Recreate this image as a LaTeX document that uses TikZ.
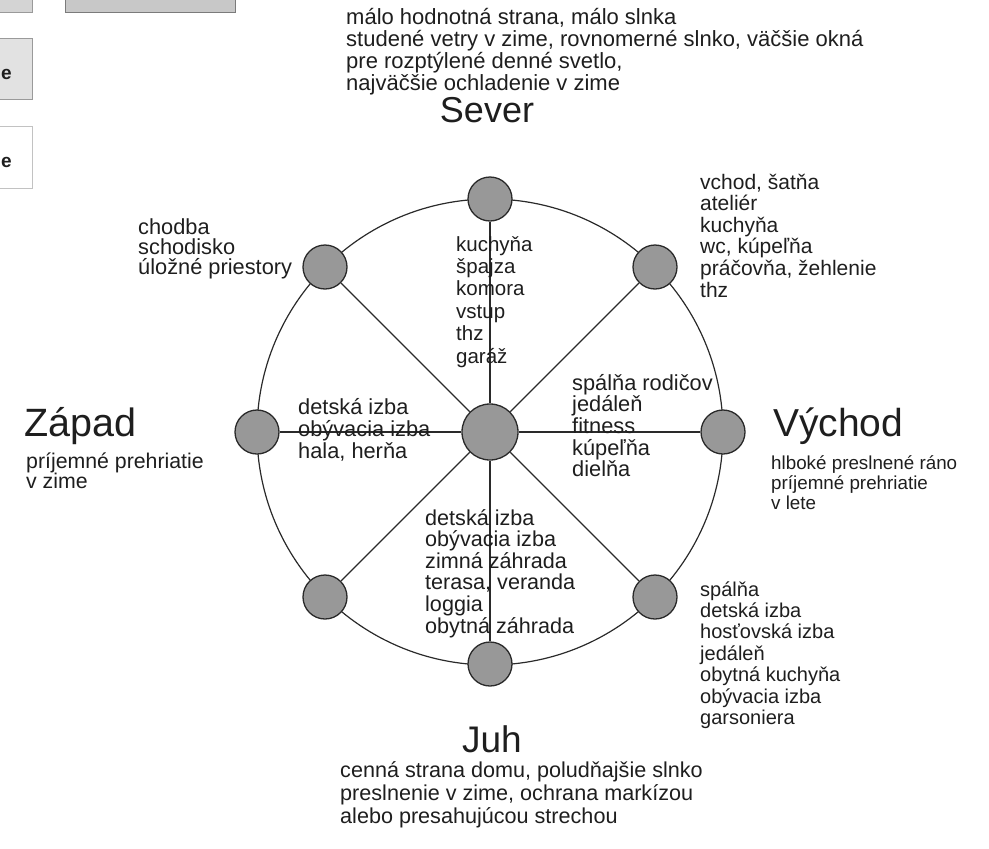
\documentclass[tikz,border=0pt]{standalone}
\usepackage{fontspec}
\setmainfont{Liberation Sans}
\pgfdeclarelayer{background}
\pgfsetlayers{background,main}
\definecolor{nodegray}{HTML}{989898}
\definecolor{linec}{HTML}{2A2A2A}
\definecolor{textc}{HTML}{1E1E1E}
\definecolor{boxa}{HTML}{D4D4D4}
\definecolor{boxb}{HTML}{C8C8C8}
\definecolor{boxc}{HTML}{E2E2E2}
\definecolor{boxline}{HTML}{9A9A9A}
\newcommand{\rowsof}[2]{\vtop{\baselineskip=#1pt\lineskiplimit=-100pt\lineskip=0pt\halign{##\hfil\cr#2\crcr}}}
\tikzset{
  ring/.style={draw=linec, line width=1.2pt},
  spoke/.style={draw=linec, line width=1.4pt},
  hub/.style={circle, draw=linec, line width=1.3pt, fill=nodegray, minimum size=56pt, inner sep=0pt},
  room/.style={circle, draw=linec, line width=1.3pt, fill=nodegray, minimum size=44pt, inner sep=0pt},
  txt/.style={anchor=base west, inner sep=0pt, text=textc, font=\fontsize{#1}{22}\selectfont},
  txt/.default=21.8,
  ttl/.style={anchor=base, inner sep=0pt, text=textc, font=\fontsize{#1}{40}\selectfont},
  ttl/.default=39,
  uibox/.style={draw=boxline, line width=1pt},
  uitext/.style={anchor=base east, inner sep=0pt, text=textc, font=\bfseries\fontsize{19}{20}\selectfont},
}
\begin{document}
\begin{tikzpicture}[x=1pt, y=-1pt]
\useasboundingbox (0,0) rectangle (989,849);
\clip (0,0) rectangle (989,849);
% partial interface boxes at top left
\draw[uibox, fill=boxa] (-5,-5) rectangle (32,12);
\draw[uibox, fill=boxb, draw=boxline!80!black] (65,-5) rectangle (235,12);
\draw[uibox, fill=boxc] (-5,38) rectangle (32,99);
\draw[uibox, fill=white, draw=boxline!60] (-5,126) rectangle (32,188);
\node[uitext] (ea) at (12,79) {e};
\node[uitext] (eb) at (12,167) {e};
% nodes
\node[hub] (hub) at (490,432) {};
\node[room] (n) at (490,199) {};
\node[room] (s) at (490,664) {};
\node[room] (w) at (257,432) {};
\node[room] (e) at (723,432) {};
\node[room] (ne) at (655,267) {};
\node[room] (nw) at (325,267) {};
\node[room] (sw) at (325,597) {};
\node[room] (se) at (655,597) {};
\begin{pgfonlayer}{background}
\draw[ring] (hub.center) circle[radius=233pt];
\end{pgfonlayer}
\foreach \t in {n,s,w,e,ne,nw,sw,se} \draw[spoke] (hub) -- (\t);
% titles
\node[ttl=36] (sever) at (487,122) {Sever};
\node[ttl=39.5] (zapad) at (80,436) {Západ};
\node[ttl=39, anchor=base west] (vychod) at (773,436) {Východ};
\node[ttl=37] (juh) at (492,752) {Juh};
% descriptions
\node[txt=22] (dsever) at (346,24) {\rowsof{22}{málo hodnotná strana, málo slnka\cr studené vetry v zime, rovnomerné slnko, väčšie okná\cr pre rozptýlené denné svetlo,\cr najväčšie ochladenie v zime}};
\node[txt=21.3] (dzapad) at (26,468) {\rowsof{20}{príjemné prehriatie\cr v zime}};
\node[txt=18.8] (dvychod) at (771,469) {\rowsof{20}{hlboké preslnené ráno\cr príjemné prehriatie\cr v lete}};
\node[txt=21.6] (djuh) at (340,777) {\rowsof{23}{cenná strana domu, poludňajšie slnko\cr preslnenie v zime, ochrana markízou\cr alebo presahujúcou strechou}};
% room lists
\node[txt=21.8] (lnw) at (138,234) {\rowsof{20}{chodba\cr schodisko\cr úložné priestory}};
\node[txt=21] (lne) at (700,189) {\rowsof{21.6}{vchod, šatňa\cr ateliér\cr kuchyňa\cr wc, kúpeľňa\cr práčovňa, žehlenie\cr thz}};
\node[txt=20.5] (ln) at (456,251) {\rowsof{22.4}{kuchyňa\cr špajza\cr komora\cr vstup\cr thz\cr garáž}};
\node[txt=21.8] (lw) at (298,414) {\rowsof{22}{detská izba\cr obývacia izba\cr hala, herňa}};
\node[txt=21.8] (le) at (572,390) {\rowsof{21.7}{spálňa rodičov\cr jedáleň\cr fitness\cr kúpeľňa\cr dielňa}};
\node[txt=21.6] (ls) at (425,525) {\rowsof{21.6}{detská izba\cr obývacia izba\cr zimná záhrada\cr terasa, veranda\cr loggia\cr obytná záhrada}};
\node[txt=20] (lse) at (700,596) {\rowsof{21.4}{spálňa\cr detská izba\cr hosťovská izba\cr jedáleň\cr obytná kuchyňa\cr obývacia izba\cr garsoniera}};
\end{tikzpicture}
\end{document}
